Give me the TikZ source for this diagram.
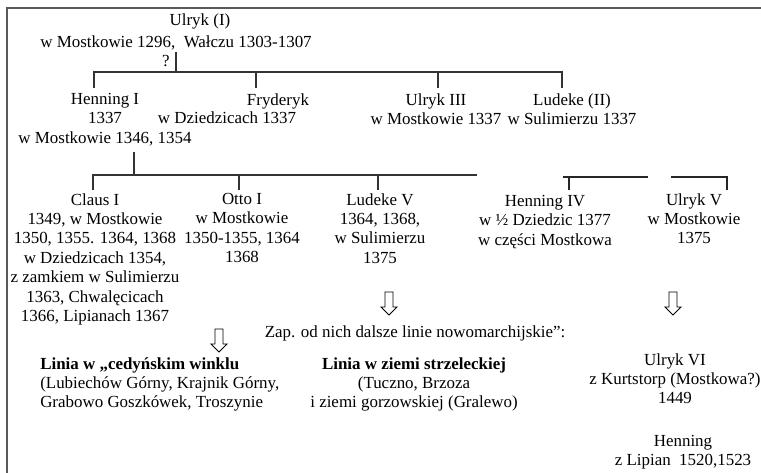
\documentclass[tikz,border=0pt]{standalone}
\usepackage{fontspec}
\setmainfont{Liberation Serif}
\usepackage{tikz}
\usetikzlibrary{positioning}
\tikzset{
person/.style={font=\fontsize{12.7}{14.6}\selectfont, align=center, inner sep=0pt, anchor=north},
branch/.style={draw=black!80, line width=1.6pt},
thinbranch/.style={draw=black!85, line width=0.9pt},
frame/.style={draw=black!65, line width=1.6pt},
hollowarrow/.pic={\draw[line width=0.7pt] (-4,-12) -- (4,-12) -- (4,3) -- (8,3) -- (0,11) -- (-8,3) -- (-4,3) -- cycle;}
      }

\begin{document}
\begin{tikzpicture}[x=0.75pt,y=-0.75pt]
                \useasboundingbox (0,0) rectangle (761,473);
                \draw[frame] (7,473) -- (7,8) -- (761,8);
                \node[person] (ulrykI) at (200,13) {Ulryk (I)};
                \node[person] (ulrykIa) at (176,35) {w Mostkowie 1296,\ \ Wałczu 1303-1307};
                \node[person] (quest) at (166,55) {?};
                \node[person] (henI) at (105,93) {Henning I\\1337\\w Mostkowie 1346, 1354};
                \node[person] (fryd) at (278,93) {Fryderyk};
                \node[person] (frydd) at (227,111) {w Dziedzicach 1337};
                \node[person] (ulrykIII) at (436,93) {Ulryk III\\w Mostkowie 1337};
                \node[person] (ludII) at (572,93) {Ludeke (II)\\w Sulimierzu 1337};
                \node[person] (clausI) at (95,193) {Claus I\\1349, w Mostkowie\\1350, 1355. 1364, 1368\\w Dziedzicach 1354,\\z zamkiem w Sulimierzu\\1363, Chwalęcicach\\1366, Lipianach 1367};
                \node[person] (ottoI) at (242,193) {Otto I\\w Mostkowie\\1350-1355, 1364\\1368};
                \node[person] (ludV) at (380,193) {Ludeke V\\1364, 1368,\\w Sulimierzu\\1375};
                \node[person] (henIV) at (545,195) {Henning IV\\w ½ Dziedzic 1377\\w części Mostkowa};
                \node[person] (ulrykV) at (694,193) {Ulryk V\\w Mostkowie\\1375};
                \pic (arrL) at (219,341) {hollowarrow};
                \pic (arrM) at (389,304) {hollowarrow};
                \pic (arrR) at (673,304) {hollowarrow};
                \node[person] (zap) at (415,325) {Zap. od nich dalsze linie nowomarchijskie”:};
                \node[person, anchor=north west, align=left] (liniaC) at (40,357) {\textbf{Linia w „cedyńskim winklu}\\(Lubiechów Górny, Krajnik Górny,\\Grabowo Goszkówek, Troszynie};
                \node[person] (liniaS) at (414,357) {\textbf{Linia w ziemi strzeleckiej}\\(Tuczno, Brzoza\\i ziemi gorzowskiej (Gralewo)};
                \node[person] (ulrykVI) at (675,353) {Ulryk VI\\z Kurtstorp (Mostkowa?)\\1449};
                \node[person] (hen) at (683,435) {Henning\\z Lipian\ \ 1520,1523};
                % first generation
                \coordinate (q) at (176,52);
                \coordinate (b) at (176,72);
                \coordinate (t1) at (94,88);
                \coordinate (t2) at (256,88);
                \coordinate (t3) at (438,88);
                \coordinate (t4) at (562,88);
                \draw[branch] (q) -- (b);
                \draw[branch] (t1) -- (t1 |- b) -- (t4 |- b) -- (t4);
                \foreach \t in {t2,t3} \draw[branch] (\t) -- (\t |- b);
                % second generation
                \coordinate (h) at (134,152);
                \coordinate (c) at (134,175);
                \coordinate (s1) at (93,190);
                \coordinate (s2) at (239,190);
                \coordinate (s3) at (378,190);
                \coordinate (e) at (477,175);
                \draw[branch] (h) -- (c);
                \draw[branch] (s1) -- (s1 |- c) -- (e);
                \foreach \s in {s2,s3} \draw[branch] (\s) -- (\s |- c);
                \coordinate (h4a) at (563,177);
                \coordinate (h4b) at (648,177);
                \coordinate (h4t) at (569,190);
                \draw[thinbranch] (h4a) -- (h4b);
                \draw[thinbranch] (h4t) -- (h4t |- h4a);
                \coordinate (u5a) at (671,177);
                \coordinate (u5t) at (727,190);
                \draw[thinbranch] (u5a) -- (u5a -| u5t) -- (u5t);
            \end{tikzpicture}
\end{document}
